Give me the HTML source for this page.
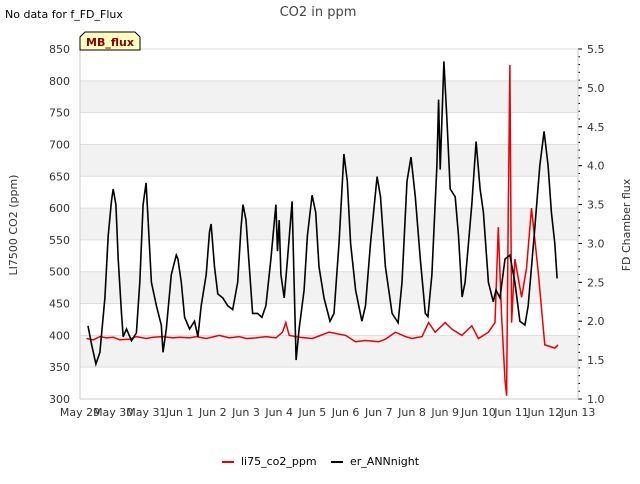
<!DOCTYPE html>
<html><head><meta charset="utf-8"><style>
body{margin:0;background:#fff;font-family:"DejaVu Sans","Liberation Sans",sans-serif;}
svg text{font-family:"DejaVu Sans","Liberation Sans",sans-serif;}
</style></head><body>
<svg id="chart" width="640" height="480" xmlns="http://www.w3.org/2000/svg">
<text x="5" y="18" font-size="11" fill="#000">No data for f_FD_Flux</text>
<text x="318" y="16" font-size="13" fill="#444" text-anchor="middle">CO2 in ppm</text>
<g id="bands"></g>
<g id="axes"></g>
<g id="series"></g>
<g>
<path d="M80,50 L80,37 L85,32 L135,32 L140,37 L140,50 Z" fill="#ffffc0" stroke="#000" stroke-width="1"/>
<text x="110" y="46" font-size="11" font-weight="bold" fill="#8b0000" text-anchor="middle">MB_flux</text>
</g>
<text transform="translate(17,225) rotate(-90)" font-size="11" text-anchor="middle" fill="#333">LI7500 CO2 (ppm)</text>
<text transform="translate(630,225) rotate(-90)" font-size="11" text-anchor="middle" fill="#333">FD Chamber flux</text>
<g>
<g><line x1="222" y1="462" x2="234" y2="462" stroke="#e00" stroke-width="2"/><text x="241" y="465" font-size="11">li75_co2_ppm</text></g>
<g><line x1="331" y1="462" x2="343" y2="462" stroke="#000" stroke-width="2"/><text x="350" y="465" font-size="11">er_ANNnight</text></g>
</g>
</svg>
<script>
const xLabels=["May 29","May 30","May 31","Jun 1","Jun 2","Jun 3","Jun 4","Jun 5","Jun 6","Jun 7","Jun 8","Jun 9","Jun 10","Jun 11","Jun 12","Jun 13"];
const leftTicks=[300,350,400,450,500,550,600,650,700,750,800,850];
const rightTicks=[1.0,1.5,2.0,2.5,3.0,3.5,4.0,4.5,5.0,5.5];
const redDays=[0.2,0.4,0.6,0.8,1,1.2,1.5,1.7,2,2.2,2.5,2.8,3,3.3,3.5,3.8,4.2,4.5,4.8,5,5.3,5.6,5.9,6.1,6.2,6.3,6.6,7,7.2,7.5,7.8,8,8.3,8.6,9,9.2,9.5,9.8,10,10.3,10.5,10.7,11,11.2,11.5,11.8,12.0,12.3,12.5,12.6,12.7,12.8,12.85,12.9,12.95,13.0,13.1,13.3,13.45,13.6,13.8,14.0,14.3,14.4];
const redVals=[395,393,398,396,397,393,394,398,395,397,398,396,397,396,398,395,400,396,398,395,396,398,396,405,420,400,397,395,399,405,402,400,390,392,390,394,405,398,395,398,420,405,420,410,400,415,395,405,420,570,430,330,305,600,825,420,520,460,505,600,500,385,380,385,392];
const blackDays=[0.24,0.35,0.48,0.6,0.75,0.85,0.95,1.0,1.08,1.15,1.25,1.3,1.4,1.55,1.7,1.8,1.9,1.99,2.05,2.15,2.3,2.45,2.5,2.6,2.75,2.9,2.95,3.05,3.15,3.3,3.45,3.55,3.65,3.8,3.9,3.95,4.05,4.15,4.3,4.45,4.6,4.75,4.85,4.91,5.0,5.1,5.2,5.35,5.48,5.6,5.75,5.9,5.95,6.0,6.05,6.15,6.25,6.39,6.45,6.51,6.6,6.75,6.85,6.99,7.1,7.2,7.35,7.53,7.65,7.8,7.95,8.05,8.15,8.3,8.49,8.6,8.75,8.95,9.05,9.2,9.4,9.58,9.7,9.85,9.97,10.1,10.25,10.4,10.48,10.6,10.75,10.8,10.85,10.96,11.05,11.15,11.3,11.4,11.51,11.6,11.8,11.93,12.05,12.15,12.3,12.45,12.53,12.65,12.8,12.95,13.1,13.25,13.4,13.5,13.7,13.85,13.98,14.1,14.2,14.3,14.37];
const blackVals=[1.94,1.7,1.45,1.6,2.3,3.1,3.55,3.7,3.5,2.8,2.1,1.8,1.9,1.75,1.85,2.5,3.5,3.78,3.3,2.5,2.2,1.95,1.6,1.9,2.6,2.85,2.8,2.5,2.05,1.9,2.0,1.8,2.2,2.6,3.15,3.25,2.7,2.35,2.3,2.2,2.15,2.5,3.2,3.5,3.3,2.7,2.1,2.1,2.05,2.2,2.8,3.5,2.9,3.3,2.6,2.3,2.8,3.54,2.5,1.5,1.9,2.4,3.1,3.62,3.4,2.7,2.3,2.0,2.1,3.0,4.15,3.8,3.0,2.4,2.0,2.2,3.0,3.86,3.6,2.7,2.1,1.98,2.5,3.8,4.11,3.6,2.8,2.1,2.06,2.6,4.0,4.85,3.95,5.34,4.6,3.7,3.6,3.1,2.31,2.5,3.5,4.31,3.7,3.4,2.5,2.25,2.4,2.3,2.8,2.85,2.5,2.0,1.95,2.2,3.2,4.0,4.44,4.0,3.4,3.0,2.55];
const X0=80,X1=578,Y0=399,Y1=49;
const xs=d=>X0+d*(X1-X0)/15;
const yl=v=>Y0-(v-300)*(Y0-Y1)/550;
const yr=v=>Y0-(v-1)*(Y0-Y1)/4.5;
const NS="http://www.w3.org/2000/svg";
function mk(tag,attrs,parent){const e=document.createElementNS(NS,tag);for(const k in attrs)e.setAttribute(k,attrs[k]);parent.appendChild(e);return e;}
const bands=document.getElementById('bands'),axes=document.getElementById('axes'),series=document.getElementById('series');
mk('rect',{x:X0,y:Y1,width:X1-X0,height:Y0-Y1,fill:'#fff'},bands);
for(let v=350;v<850;v+=100){const r=mk('rect',{x:X0,y:yl(v+50),width:X1-X0,height:yl(v)-yl(v+50),fill:'#f2f2f2'},bands);

}
leftTicks.forEach(v=>{mk('line',{x1:X0,x2:X1,y1:yl(v),y2:yl(v),stroke:'#ddd','stroke-width':1},bands);
const t=mk('text',{x:X0-10,y:yl(v)+4,'font-size':11,'text-anchor':'end',fill:'#333'},axes);t.textContent=v;

});
rightTicks.forEach(v=>{mk('line',{x1:X1,x2:X1+4,y1:yr(v),y2:yr(v),stroke:'#000'},axes);
const t=mk('text',{x:X1+9,y:yr(v)+4,'font-size':11,fill:'#333'},axes);t.textContent=v.toFixed(1);

});
for(let v=1.1;v<5.5;v+=0.1){mk('line',{x1:X1,x2:X1+2,y1:yr(v),y2:yr(v),stroke:'#000'},axes);}
mk('line',{x1:X0,x2:X0,y1:Y1,y2:Y0,stroke:'#ccc'},axes);
mk('line',{x1:X0,x2:X1,y1:Y0,y2:Y0,stroke:'#ccc'},axes);
mk('line',{x1:X1,x2:X1,y1:Y1,y2:Y0,stroke:'#ccc'},axes);
xLabels.forEach((l,i)=>{const t=mk('text',{x:xs(i),y:Y0+17,'font-size':11,'text-anchor':'middle',fill:'#333'},axes);t.textContent=l;

});
const rp=mk('path',{d:redDays.map((d,i)=>(i?'L':'M')+xs(d).toFixed(1)+','+yl(redVals[i]).toFixed(1)).join(''),fill:'none',stroke:'#e00','stroke-width':1.5},series);


const bp=mk('path',{d:blackDays.map((d,i)=>(i?'L':'M')+xs(d).toFixed(1)+','+yr(blackVals[i]).toFixed(1)).join(''),fill:'none',stroke:'#000','stroke-width':1.6},series);


</script>
</body></html>
